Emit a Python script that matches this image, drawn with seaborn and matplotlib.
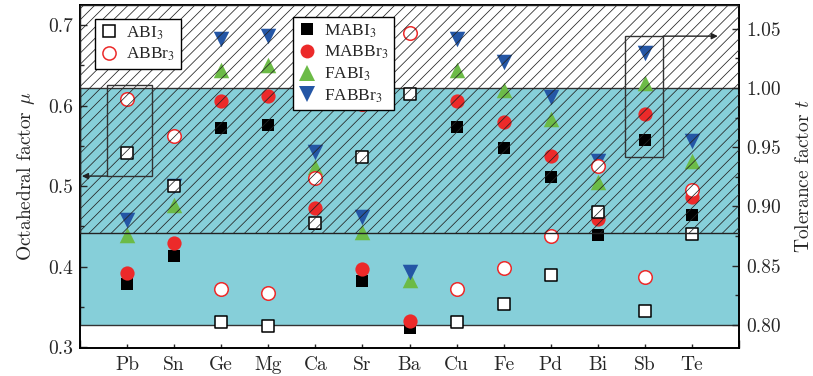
import numpy as np
import pandas as pd
import matplotlib
matplotlib.use("Agg")
import matplotlib.pyplot as plt
import seaborn as sns
from matplotlib.lines import Line2D
from matplotlib.patches import Rectangle
from matplotlib.ticker import MultipleLocator

# B-site elements
elements = ["Pb", "Sn", "Ge", "Mg", "Ca", "Sr", "Ba", "Cu", "Fe", "Pd", "Bi", "Sb", "Te"]

# octahedral factor mu (left axis)
mu_abi3 = [0.541, 0.500, 0.331, 0.3265, 0.454, 0.536, 0.614, 0.331, 0.354, 0.390, 0.468, 0.345, 0.441]
mu_abbr3 = [0.608, 0.562, 0.372, 0.367, 0.510, 0.602, 0.690, 0.372, 0.398, 0.438, 0.525, 0.387, 0.495]

# tolerance factor t (right axis)
t_mabi3 = [0.835, 0.858, 0.966, 0.969, 0.885, 0.837, 0.7975, 0.967, 0.949, 0.925, 0.876, 0.956, 0.893]
t_mabbr3 = [0.844, 0.869, 0.989, 0.993, 0.899, 0.847, 0.8036, 0.989, 0.9715, 0.943, 0.8895, 0.978, 0.908]
t_fabi3 = [0.876, 0.901, 1.015, 1.019, 0.933, 0.8785, 0.838, 1.015, 0.9985, 0.974, 0.921, 1.0046, 0.9385]
t_fabbr3 = [0.889, 0.917, 1.041, 1.044, 0.946, 0.8915, 0.845, 1.041, 1.022, 0.992, 0.938, 1.0295, 0.955]

pos = np.arange(1, len(elements) + 1)
df = pd.DataFrame({"pos": pos, "el": elements,
                   "ABI3": mu_abi3, "ABBr3": mu_abbr3,
                   "MABI3": t_mabi3, "MABBr3": t_mabbr3,
                   "FABI3": t_fabi3, "FABBr3": t_fabbr3})

RED = "#ec2a2a"
GREEN = "#6cbb47"
BLUE = "#2456a5"
CYAN = "#86cfd9"

sns.set_theme(style="ticks")
plt.rcParams["font.family"] = ["cmr10", "DejaVu Serif"]
plt.rcParams["mathtext.fontset"] = "cm"
plt.rcParams["axes.formatter.use_mathtext"] = True
plt.rcParams["hatch.linewidth"] = 0.55
plt.rcParams["axes.linewidth"] = 1.2

fig = plt.figure(figsize=(8.13, 3.76), dpi=100)
ax = fig.add_axes([0.0984, 0.0745, 0.8106, 0.9122])   # tolerance factor (right)
ax2 = ax.twinx()                                       # octahedral factor (left)
ax.yaxis.tick_right()
ax.yaxis.set_label_position("right")
ax2.yaxis.tick_left()
ax2.yaxis.set_label_position("left")

ax.set_xlim(0, 14)
ax.set_ylim(0.7806, 1.070)
ax2.set_ylim(0.2988, 0.725)

# stability windows
ax.axhspan(0.80, 1.00, facecolor=CYAN, edgecolor="#333333", lw=1, zorder=0)

# filled markers: tolerance factor
sns.scatterplot(data=df, x="pos", y="MABI3", ax=ax, marker="s", s=75, color="black", linewidth=0, zorder=2, legend=False)
sns.scatterplot(data=df, x="pos", y="MABBr3", ax=ax, marker="o", s=105, color=RED, linewidth=0, zorder=2, legend=False)
sns.scatterplot(data=df, x="pos", y="FABI3", ax=ax, marker="^", s=125, color=GREEN, linewidth=0, zorder=2, legend=False)
sns.scatterplot(data=df, x="pos", y="FABBr3", ax=ax, marker="v", s=125, color=BLUE, linewidth=0, zorder=2, legend=False)

# open markers: octahedral factor
sns.scatterplot(data=df, x="pos", y="ABBr3", ax=ax2, marker="o", s=95, color="white", edgecolor=RED, linewidth=1.1, zorder=2, legend=False)
sns.scatterplot(data=df, x="pos", y="ABI3", ax=ax2, marker="s", s=70, color="white", edgecolor="black", linewidth=1.1, zorder=2, legend=False)

# hatch on top
ax2.axhspan(0.442, 0.725, facecolor="none", edgecolor="#222222", hatch="///", lw=1, zorder=3)

# highlight boxes + arrows
ax2.add_patch(Rectangle((0.574, 0.5124), 0.956, 0.1131, fill=False, ec="#333333", lw=1, zorder=4))
ax2.add_patch(Rectangle((11.58, 0.536), 0.81, 0.1503, fill=False, ec="#333333", lw=1, zorder=4))
ax2.annotate("", xy=(0.04, 0.5124), xytext=(0.574, 0.5124),
             arrowprops=dict(arrowstyle="-|>", color="#222222", lw=1, mutation_scale=9, shrinkA=0, shrinkB=0), zorder=4)
ax2.annotate("", xy=(13.55, 0.6863), xytext=(12.39, 0.6863),
             arrowprops=dict(arrowstyle="-|>", color="#222222", lw=1, mutation_scale=9, shrinkA=0, shrinkB=0), zorder=4)

# ticks
ax.set_xticks(pos)
ax.set_xticklabels(elements)
ax.xaxis.set_minor_locator(MultipleLocator(2))
ax.yaxis.set_major_locator(MultipleLocator(0.05))
ax.yaxis.set_minor_locator(MultipleLocator(0.025))
ax.yaxis.set_major_formatter(matplotlib.ticker.FormatStrFormatter("%.2f"))
ax2.yaxis.set_major_locator(MultipleLocator(0.1))
ax2.yaxis.set_minor_locator(MultipleLocator(0.05))
ax2.yaxis.set_major_formatter(matplotlib.ticker.FormatStrFormatter("%.1f"))

ax.tick_params(axis="x", which="major", direction="in", length=3, width=1, labelsize=14, pad=6, top=False)
ax.tick_params(axis="x", which="minor", direction="in", length=6, width=1, top=False)
ax.tick_params(axis="y", which="major", direction="in", length=5, width=1, labelsize=14, pad=5)
ax.tick_params(axis="y", which="minor", direction="in", length=3, width=1)
ax2.tick_params(axis="y", which="major", direction="in", length=5, width=1, labelsize=14, pad=5)
ax2.tick_params(axis="y", which="minor", direction="in", length=3, width=1)

ax.set_xlabel("")
ax.set_ylabel("Tolerance factor $t$", fontsize=14, labelpad=10)
ax2.set_ylabel("Octahedral factor $\\mu$", fontsize=14, labelpad=8)
for a in (ax, ax2):
    for s in a.spines.values():
        s.set_color("black")
        s.set_linewidth(1.2)

# legends
lprop = dict(family="Liberation Serif", size=12.5, math_fontfamily="stix")
h1 = [Line2D([], [], ls="", marker="s", ms=8, mfc="white", mec="black", mew=1.1, label="ABI$_3$"),
      Line2D([], [], ls="", marker="o", ms=9.5, mfc="white", mec=RED, mew=1.1, label="ABBr$_3$")]
h2 = [Line2D([], [], ls="", marker="s", ms=8.5, mfc="black", mec="black", mew=0, label="MABI$_3$"),
      Line2D([], [], ls="", marker="o", ms=10, mfc=RED, mec=RED, mew=0, label="MABBr$_3$"),
      Line2D([], [], ls="", marker="^", ms=11, mfc=GREEN, mec=GREEN, mew=0, label="FABI$_3$"),
      Line2D([], [], ls="", marker="v", ms=11, mfc=BLUE, mec=BLUE, mew=0, label="FABBr$_3$")]
common = dict(loc="upper left", frameon=True, fancybox=False, framealpha=1, edgecolor="black",
              handlelength=1.0, handletextpad=0.5, borderpad=0.3, labelspacing=0.25, borderaxespad=0, prop=lprop)
leg1 = ax2.legend(handles=h1, bbox_to_anchor=(0.023, 0.959), **common)
leg1.get_frame().set_linewidth(1)
leg1.set_zorder(10)
ax2.add_artist(leg1)
leg2 = ax2.legend(handles=h2, bbox_to_anchor=(0.323, 0.965), **common)
leg2.get_frame().set_linewidth(1)
leg2.set_zorder(10)

fig.savefig("out.png", dpi=100)
